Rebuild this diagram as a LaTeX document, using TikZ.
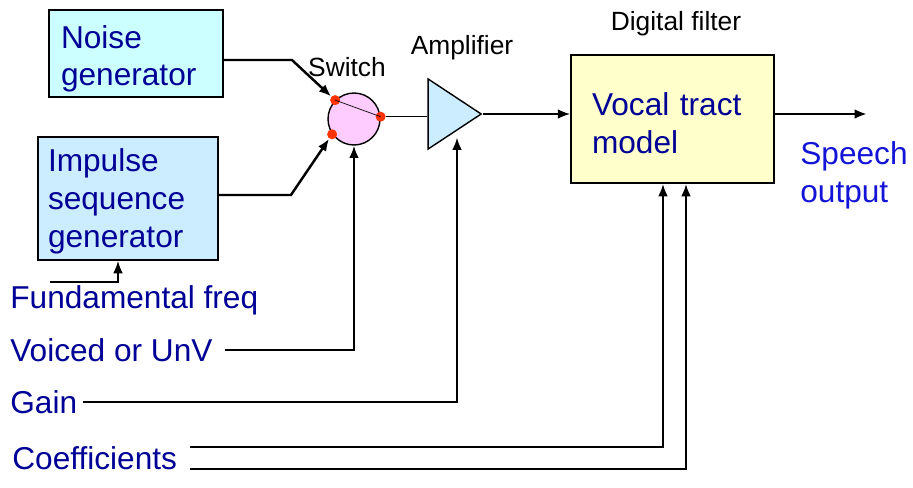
\documentclass[tikz,border=0pt]{standalone}
\usepackage{fontspec}
\setmainfont{Liberation Sans}
\usetikzlibrary{positioning, shapes.geometric, arrows.meta}

\definecolor{txtblue}{RGB}{0,0,150}
\definecolor{outblue}{RGB}{20,20,215}
\definecolor{noisefill}{RGB}{204,255,255}
\definecolor{blockfill}{RGB}{204,236,255}
\definecolor{filterfill}{RGB}{255,255,204}
\definecolor{switchfill}{RGB}{255,204,255}
\definecolor{dotred}{RGB}{255,51,0}

\newcommand{\lowtext}[1]{\rule{0pt}{#1}}

\tikzset{
  block/.style={draw, line width=1.1pt, align=left, inner ysep=0pt, text=txtblue,
    font=\fontsize{18}{21.5}\selectfont},
  tag/.style={font=\fontsize{15}{18}\selectfont, inner sep=1pt},
  ctrl/.style={text=txtblue, inner sep=0.1cm, font=\fontsize{18}{21.5}\selectfont},
  dot/.style={circle, fill=dotred, inner sep=0pt, minimum size=0.2cm},
}

\begin{document}
\begin{tikzpicture}[x=0.02cm, y=-0.02cm, >={Latex[length=7pt,width=5.5pt]}]
        \useasboundingbox (0,0) rectangle (913,487);

        % Source blocks
        \node[block, fill=noisefill, minimum width=3.44cm, minimum height=1.74cm, text width=3.0cm, inner xsep=0.24cm] (noise) at (136,53.5) {\lowtext{19pt}Noise\\generator};
        \node[block, fill=blockfill, minimum width=3.6cm, minimum height=2.46cm, text width=3.2cm, inner xsep=0.2cm] (imp) at (128,198.5) {\lowtext{16.5pt}Impulse\\sequence\\generator};

        % Switch, amplifier and filter
        \node[draw, circle, thick, fill=switchfill, minimum size=1.04cm, inner sep=0pt] (sw) at (354,119) {};
        \node[dot] (d1) at (sw.135) {};
        \node[dot] (d2) at (sw.215) {};
        \node[dot] (d3) at (sw.5) {};
        \draw (d1.center) -- (d3.center);
        \node[draw, thick, fill=blockfill, isosceles triangle, isosceles triangle stretches, minimum width=1.4cm, minimum height=1.06cm, inner sep=0pt] (amp) at (447,114) {};
        \node[block, fill=filterfill, minimum width=4.06cm, minimum height=2.56cm, text width=3.22cm, inner xsep=0.42cm] (vt) at (672.5,119) {\lowtext{18pt}Vocal tract\\model};

        % Labels
        \node[tag] (swlab) at (347,67) {Switch};
        \node[tag] (amplab) at (462,48) {Amplifier};
        \node[tag] (vtlab) at (676,24) {Digital filter};

        % Control inputs and output
        \node[ctrl, anchor=west] (fund) at (5,300) {Fundamental freq};
        \node[ctrl, anchor=west] (voiced) at (5,350) {Voiced or UnV};
        \node[ctrl, anchor=west] (gain) at (5,402) {Gain};
        \node[ctrl, anchor=west] (coef) at (7,458) {Coefficients};
        \node[ctrl, anchor=west, text=outblue, align=left] (speech) at (795,175) {Speech\\output};
        \coordinate (ff) at (50,282);

        % Arrows
        \draw[->, line width=1.4pt] ([yshift=-0.13cm]noise.east) -- ++(68,0) -- (d1);
        \draw[->, line width=1.4pt] ([yshift=0.07cm]imp.east) -- ++(72,0) -- (d2);
        \draw[thick] (d3) -- (d3 -| amp.west);
        \draw[->, thick] (amp.apex) -- (amp.apex -| vt.west);
        \draw[->, line width=1.5pt] (vt.east |- amp.apex) -- ++(92,0);
        \draw[->, thick] (ff) -| ([xshift=-0.2cm]imp.south);
        \draw[->, line width=1.2pt] ([xshift=0.14cm]voiced.east) -| (sw.south);
        \draw[->, line width=1.2pt] (gain.east) -| ([xshift=0.2cm]amp.south);
        \draw[->, line width=1.2pt] ([xshift=0.16cm, yshift=0.22cm]coef.east) -| ([xshift=-0.19cm]vt.south);
        \draw[->, line width=1.2pt] ([xshift=0.16cm, yshift=-0.22cm]coef.east) -| ([xshift=0.27cm]vt.south);
      \end{tikzpicture}
\end{document}
